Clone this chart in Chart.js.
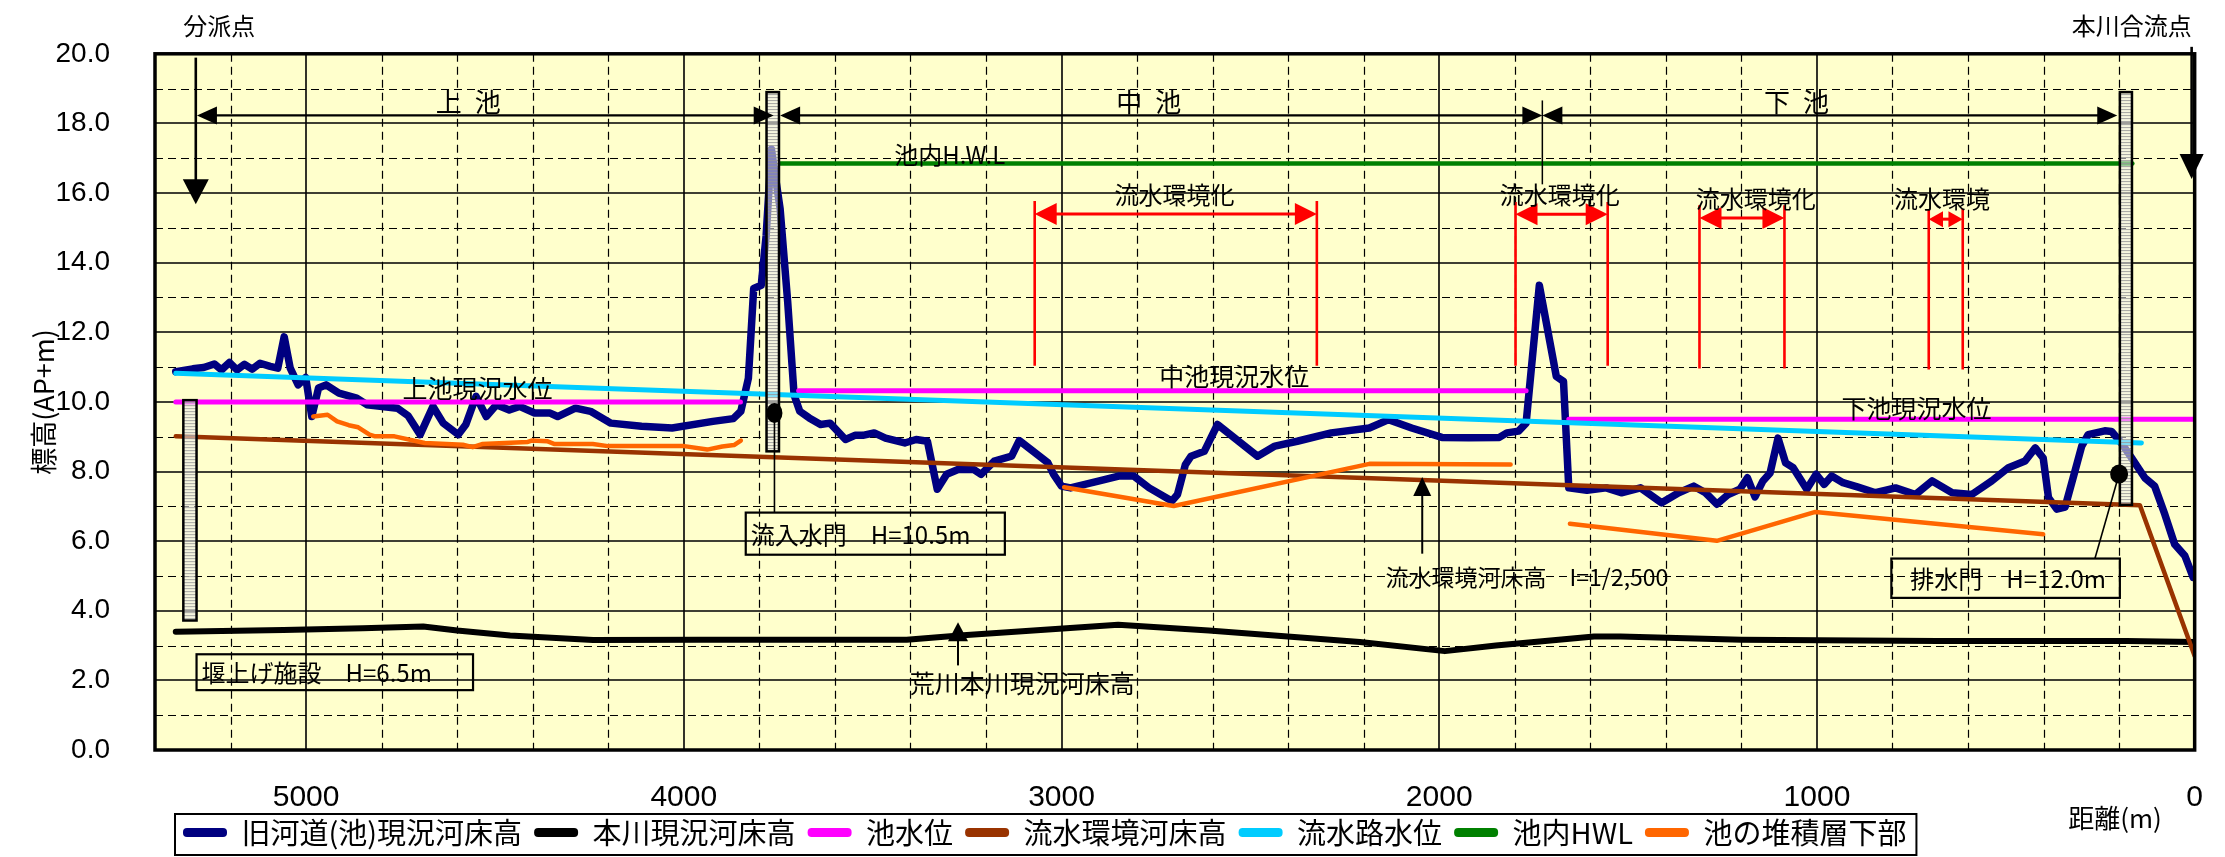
<!DOCTYPE html>
<html lang="ja">
<head>
<meta charset="utf-8">
<title>縦断図</title>
<script src="https://cdn.jsdelivr.net/npm/chart.js@4.4.1/dist/chart.umd.min.js"></script>
<style>
html,body{margin:0;padding:0;background:#ffffff;overflow:hidden;}
canvas{display:block;}
</style>
</head>
<body>
<canvas id="chart" width="2225" height="857"></canvas>
<script>
// ================= DATA =================
const xTicks = [5000, 4000, 3000, 2000, 1000, 0];
const yTicks = [0, 2, 4, 6, 8, 10, 12, 14, 16, 18, 20];
const seriesNames = ['旧河道(池)現況河床高', '本川現況河床高', '池水位', '流水環境河床高', '流水路水位', '池内HWL', '池の堆積層下部'];

// 旧河道(池)現況河床高
const oldBedX = [5345,5300,5271,5243,5224,5203,5183,5163,5143,5122,
  5095,5075,5058,5042,5021,5001,4985,4967,4947,4913,
  4866,4839,4758,4730,4698,4664,4637,4597,4577,4550,
  4523,4496,4462,4435,4395,4354,4334,4287,4247,4193,
  4112,4031,3923,3869,3849,3829,3815,3795,3782,3768,
  3745,3725,3708,3693,3668,3638,3613,3572,3547,3526,
  3496,3466,3415,3385,3355,3329,3304,3274,3233,3213,
  3178,3132,3112,3036,3021,3000,2976,2900,2849,2809,
  2768,2708,2693,2672,2657,2622,2587,2481,2435,2376,
  2286,2185,2134,2073,1993,1922,1841,1821,1790,1770,
  1735,1690,1671,1657,1609,1558,1518,1467,1411,1366,
  1326,1295,1265,1235,1204,1184,1164,1143,1124,1103,
  1083,1063,1027,1002,981,961,931,891,845,792,
  739,695,642,590,537,493,449,422,401,387,
  365,343,317,299,282,238,220,194,167,132,
  106,79,53,26,4];
const oldBedY = [10.87,10.95,10.99,11.09,10.92,11.13,10.92,11.08,10.94,11.11,
  11.02,10.97,11.87,10.97,10.49,10.70,9.58,10.40,10.49,10.25,
  10.11,9.92,9.82,9.60,9.06,9.87,9.39,9.06,9.35,10.16,
  9.58,9.92,9.77,9.87,9.68,9.68,9.58,9.82,9.73,9.39,
  9.30,9.25,9.44,9.52,9.73,10.68,13.26,13.35,14.78,17.26,
  15.55,12.88,10.20,9.73,9.54,9.35,9.39,8.92,9.04,9.04,
  9.11,8.96,8.82,8.92,8.87,7.49,7.92,8.06,8.06,7.92,
  8.30,8.44,8.89,8.25,7.92,7.58,7.53,7.73,7.87,7.87,
  7.53,7.15,7.34,8.20,8.44,8.58,9.35,8.44,8.73,8.87,
  9.11,9.25,9.49,9.25,8.98,8.97,8.98,9.11,9.16,9.39,
  13.35,10.73,10.59,7.53,7.46,7.53,7.39,7.53,7.10,7.39,
  7.58,7.39,7.06,7.34,7.49,7.82,7.27,7.73,7.96,8.96,
  8.25,8.11,7.49,7.92,7.63,7.87,7.68,7.55,7.39,7.53,
  7.34,7.73,7.39,7.34,7.73,8.11,8.30,8.68,8.39,7.25,
  6.92,6.98,8.01,8.73,9.06,9.17,9.15,8.82,8.39,7.82,
  7.58,6.77,5.91,5.58,4.96];

// 本川現況河床高
const mainX = [5345,5060,4850,4690,4600,4460,4240,3960,3410,3270,2850,2610,2210,1985,1850,1590,1520,1200,680,180,0];
const mainY = [3.40,3.45,3.50,3.55,3.43,3.29,3.16,3.17,3.17,3.29,3.60,3.43,3.10,2.84,3.00,3.26,3.26,3.17,3.13,3.13,3.10];

// 池水位 (上池 / 中池 / 下池)
const poolX = [5345,3850,3800,3696,1770,1720,1657,0];
const poolY = [10.0,10.0,null,10.32,10.32,null,9.5,9.5];

// 流水環境河床高
const envBedX = [5345,145,0];
const envBedY = [9.01,7.03,2.7];

// 流水路水位
const channelX = [5345,141];
const channelY = [10.82,8.82];

// 池内HWL
const hwlX = [3745,165];
const hwlY = [16.85,16.85];

// 池の堆積層下部
const sedX = [4981,4943,4918,4887,4862,4832,4817,4766,4686,4585,4559,4534,4413,4403,4362,4342,4241,4201,3999,3938,3898,3867,3849,
  3400, 2993,2703,2185,1811, 1730, 1654,1265,1004,401];
const sedY = [9.58,9.63,9.44,9.33,9.27,9.06,9.01,9.01,8.82,8.77,8.70,8.79,8.85,8.89,8.87,8.79,8.79,8.73,8.73,8.63,8.72,8.76,8.89,
  null, 7.55,7.01,8.22,8.20, null, 6.50,6.01,6.84,6.20];

// ================= STYLE / ANNOTATIONS =================
const seriesColors = ['#000080', '#000000', '#FF00FF', '#993300', '#00CCFF', '#008000', '#FF6600'];
const seriesWidths = [7.5, 6, 5, 4.5, 5, 4.5, 4.5];

const CJK = '"Noto Sans CJK JP", "Noto Sans CJK SC", sans-serif';
const LAT = '"Liberation Sans", Arial, sans-serif';
const NARROW = '"Liberation Sans Narrow", "Liberation Sans", Arial, sans-serif';

const gateBars = [
  {x1: 5325, x2: 5290, top: 10.05, bottom: 3.72},
  {x1: 3781, x2: 3748, top: 18.9, bottom: 8.58},
  {x1: 198, x2: 166, top: 18.9, bottom: 7.04}
];
const poolSpans = [
  {from: 5289, to: 3762, y: 18.23, label: '上\u2002池', lx: 4571},
  {from: 3745, to: 1727, y: 18.23, label: '中\u2002池', lx: 2769},
  {from: 1727, to: 205, y: 18.23, label: '下\u2002池', lx: 1054}
];
const envRanges = [
  {a: 3071, b: 2324, top: 15.77, bot: 11.04, ay: 15.40, t: '流水環境化', tx: 2701, ty: 15.94},
  {a: 1798, b: 1554, top: 15.74, bot: 11.04, ay: 15.39, t: '流水環境化', tx: 1681, ty: 15.94},
  {a: 1311, b: 1086, top: 15.65, bot: 10.96, ay: 15.28, t: '流水環境化', tx: 1162, ty: 15.82},
  {a: 704, b: 614, top: 15.54, bot: 10.93, ay: 15.25, t: '流水環境', tx: 669, ty: 15.82}
];
const textLabels = [
  {t: '分派点', x: 5230, y: 20.8, s: 24, a: 'center'},
  {t: '本川合流点', x: 8, y: 20.8, s: 24, a: 'right'},
  {t: '池内H.W.L', x: 3443, y: 17.1, s: 24, a: 'left'},
  {t: '上池現況水位', x: 4745, y: 10.39, s: 25, a: 'left'},
  {t: '中池現況水位', x: 2741, y: 10.73, s: 25, a: 'left'},
  {t: '下池現況水位', x: 935, y: 9.82, s: 25, a: 'left'},
  {t: '流水環境河床高　I=1/2,500', x: 2142, y: 4.96, s: 23, a: 'left'},
  {t: '荒川本川現況河床高', x: 3402, y: 1.92, s: 25, a: 'left'},
  {t: '距離(m)', x: 211, y: -1.97, s: 26, a: 'center'}
];
const boxLabels = [
  {t: '堰上げ施設　H=6.5m', x1: 5290, x2: 4558, top: 2.75, bottom: 1.72, pad: 5},
  {t: '流入水門　H=10.5m', x1: 3836, x2: 3150, top: 6.82, bottom: 5.61, pad: 5},
  {t: '排水門　H=12.0m', x1: 803, x2: 198, top: 5.50, bottom: 4.37, pad: 19}
];

function pts(xs, ys) { return xs.map((x, i) => ({x: x, y: ys[i]})); }

function arrowHead(ctx, tx, ty, dx, dy, len, half) {
  const bx = tx - dx * len, by = ty - dy * len;
  const nx = -dy, ny = dx;
  ctx.beginPath();
  ctx.moveTo(tx, ty);
  ctx.lineTo(bx + nx * half, by + ny * half);
  ctx.lineTo(bx - nx * half, by - ny * half);
  ctx.closePath();
  ctx.fill();
}

function drawGrid(chart) {
  const {ctx, chartArea: a, scales: {x, y}} = chart;
  ctx.save();
  ctx.strokeStyle = '#000';
  ctx.lineWidth = 1.2;
  ctx.setLineDash([8, 5]);
  ctx.beginPath();
  for (let v = 200; v < 5400; v += 200) {
    if (v % 1000 === 0) continue;
    const px = Math.round(x.getPixelForValue(v)) + 0.5;
    ctx.moveTo(px, a.top); ctx.lineTo(px, a.bottom);
  }
  for (let v = 1; v < 20; v += 2) {
    const py = Math.round(y.getPixelForValue(v)) + 0.5;
    ctx.moveTo(a.left, py); ctx.lineTo(a.right, py);
  }
  ctx.stroke();
  ctx.setLineDash([]);
  ctx.lineWidth = 1.6;
  ctx.beginPath();
  for (let v = 1000; v <= 5000; v += 1000) {
    const px = Math.round(x.getPixelForValue(v));
    ctx.moveTo(px, a.top); ctx.lineTo(px, a.bottom);
  }
  for (let v = 2; v <= 18; v += 2) {
    const py = Math.round(y.getPixelForValue(v));
    ctx.moveTo(a.left, py); ctx.lineTo(a.right, py);
  }
  ctx.stroke();
  ctx.restore();
}

function drawDecor(chart) {
  const ctx = chart.ctx, xs = chart.scales.x, ys = chart.scales.y, a = chart.chartArea;
  const X = v => xs.getPixelForValue(v), Y = v => ys.getPixelForValue(v);
  ctx.save();

  // plot frame
  ctx.strokeStyle = '#000';
  ctx.lineWidth = 3.5;
  ctx.strokeRect(a.left, a.top, a.right - a.left, a.bottom - a.top);

  // gate bars
  gateBars.forEach(g => {
    const l = X(g.x1), r = X(g.x2), t = Y(g.top), b = Y(g.bottom);
    ctx.fillStyle = 'rgba(238,238,238,0.55)';
    ctx.fillRect(l, t, r - l, b - t);
    ctx.strokeStyle = 'rgba(150,150,150,0.85)';
    ctx.lineWidth = 1;
    ctx.beginPath();
    for (let yy = t + 2; yy < b - 1; yy += 3) { ctx.moveTo(l, yy + 0.5); ctx.lineTo(r, yy + 0.5); }
    ctx.stroke();
    ctx.strokeStyle = '#000';
    ctx.lineWidth = 2.5;
    ctx.strokeRect(l, t, r - l, b - t);
  });

  // pool span dimension lines
  ctx.fillStyle = '#000';
  ctx.strokeStyle = '#000';
  poolSpans.forEach(s => {
    const x1 = X(s.from), x2 = X(s.to), yy = Y(s.y);
    ctx.lineWidth = 2.2;
    ctx.beginPath(); ctx.moveTo(x1 + 10, yy); ctx.lineTo(x2 - 10, yy); ctx.stroke();
    arrowHead(ctx, x1, yy, -1, 0, 20, 9);
    arrowHead(ctx, x2, yy, 1, 0, 20, 9);
    ctx.font = '26px ' + CJK;
    ctx.textAlign = 'center'; ctx.textBaseline = 'middle';
    ctx.fillText(s.label, X(s.lx), Y(18.62));
  });
  // leader below 中池/下池 boundary
  ctx.lineWidth = 1.5;
  ctx.beginPath(); ctx.moveTo(X(1727), Y(18.66)); ctx.lineTo(X(1727), Y(16.25)); ctx.stroke();

  // 分派点 arrow
  ctx.lineWidth = 2.6;
  ctx.beginPath(); ctx.moveTo(X(5292), Y(19.89)); ctx.lineTo(X(5292), Y(15.68) - 20); ctx.stroke();
  arrowHead(ctx, X(5292), Y(15.68), 0, 1, 25, 13);
  // 本川合流点 arrow
  ctx.beginPath(); ctx.moveTo(X(8), Y(20.2)); ctx.lineTo(X(8), Y(16.4) - 20); ctx.stroke();
  arrowHead(ctx, X(8), Y(16.4), 0, 1, 25, 12);

  // 流水環境化 ranges (red)
  envRanges.forEach(r => {
    const xa = X(r.a), xb = X(r.b), yy = Y(r.ay);
    ctx.strokeStyle = '#FF0000'; ctx.fillStyle = '#FF0000';
    ctx.lineWidth = 2.6;
    ctx.beginPath();
    ctx.moveTo(xa, Y(r.top)); ctx.lineTo(xa, Y(r.bot));
    ctx.moveTo(xb, Y(r.top)); ctx.lineTo(xb, Y(r.bot));
    ctx.stroke();
    const span = xb - xa;
    const hl = Math.min(22, span * 0.42), hh = span < 80 ? 8 : 11;
    ctx.lineWidth = 3;
    ctx.beginPath(); ctx.moveTo(xa + hl * 0.5, yy); ctx.lineTo(xb - hl * 0.5, yy); ctx.stroke();
    arrowHead(ctx, xa, yy, -1, 0, hl, hh);
    arrowHead(ctx, xb, yy, 1, 0, hl, hh);
    ctx.fillStyle = '#000';
    ctx.font = '24px ' + CJK;
    ctx.textAlign = 'center'; ctx.textBaseline = 'middle';
    ctx.fillText(r.t, X(r.tx), Y(r.ty));
  });

  // up arrows to lines
  ctx.strokeStyle = '#000'; ctx.fillStyle = '#000';
  ctx.lineWidth = 2;
  ctx.beginPath(); ctx.moveTo(X(2045), Y(5.64)); ctx.lineTo(X(2045), Y(7.84) + 14); ctx.stroke();
  arrowHead(ctx, X(2045), Y(7.84), 0, -1, 19, 9);
  ctx.beginPath(); ctx.moveTo(X(3274), Y(2.43)); ctx.lineTo(X(3274), Y(3.67) + 14); ctx.stroke();
  arrowHead(ctx, X(3274), Y(3.67), 0, -1, 19, 10);

  // gate leaders and dots
  ctx.lineWidth = 1.6;
  ctx.beginPath(); ctx.moveTo(X(3760), Y(9.68)); ctx.lineTo(X(3760), Y(6.82)); ctx.stroke();
  ctx.beginPath(); ctx.moveTo(X(200), Y(7.93)); ctx.lineTo(X(264), Y(5.50)); ctx.stroke();
  ctx.beginPath(); ctx.ellipse(X(3760), Y(9.68), 8, 10, 0, 0, Math.PI * 2); ctx.fill();
  ctx.beginPath(); ctx.ellipse(X(200), Y(7.93), 9, 9.5, 0, 0, Math.PI * 2); ctx.fill();

  // boxed labels
  boxLabels.forEach(b => {
    const l = X(b.x1), r = X(b.x2), t = Y(b.top), bt = Y(b.bottom);
    ctx.strokeStyle = '#000'; ctx.lineWidth = 2.2;
    ctx.strokeRect(l, t, r - l, bt - t);
    ctx.fillStyle = '#000';
    ctx.font = '24px ' + CJK;
    ctx.textAlign = 'left'; ctx.textBaseline = 'middle';
    ctx.fillText(b.t, l + b.pad, (t + bt) / 2 + 1);
  });

  // free text labels
  textLabels.forEach(l => {
    ctx.fillStyle = '#000';
    ctx.font = l.s + 'px ' + CJK;
    ctx.textAlign = l.a; ctx.textBaseline = 'middle';
    ctx.fillText(l.t, X(l.x), Y(l.y));
  });
  ctx.restore();
}

function drawLegendFrame(chart) {
  const lg = chart.legend;
  if (!lg || !lg.legendHitBoxes || !lg.legendHitBoxes.length) return;
  const hb = lg.legendHitBoxes;
  const first = hb[0], last = hb[hb.length - 1];
  const ctx = chart.ctx;
  ctx.save();
  ctx.strokeStyle = '#000';
  ctx.lineWidth = 2;
  const l = first.left - 8, r = last.left + last.width + 10;
  const t = first.top - 4, b = first.top + first.height + 8;
  ctx.strokeRect(l, t, r - l, b - t);
  ctx.restore();
}

const decorPlugin = {
  id: 'profileDecor',
  afterLayout(chart) {
    const lg = chart.legend;
    if (lg) { lg.left += 16; lg.right += 16; }
  },
  beforeDraw(chart) {
    const {ctx, chartArea: a} = chart;
    ctx.save();
    ctx.fillStyle = '#ffffff';
    ctx.fillRect(0, 0, chart.width, chart.height);
    ctx.fillStyle = '#FFFFCC';
    ctx.fillRect(a.left, a.top, a.right - a.left, a.bottom - a.top);
    ctx.restore();
  },
  beforeDatasetsDraw(chart) { drawGrid(chart); },
  afterDatasetsDraw(chart) { drawDecor(chart); },
  afterDraw(chart) { drawLegendFrame(chart); }
};

const seriesData = [
  pts(oldBedX, oldBedY), pts(mainX, mainY), pts(poolX, poolY), pts(envBedX, envBedY),
  pts(channelX, channelY), pts(hwlX, hwlY), pts(sedX, sedY)
];

const datasets = seriesNames.map((name, i) => ({
  label: name,
  data: seriesData[i],
  borderColor: seriesColors[i],
  backgroundColor: seriesColors[i],
  borderWidth: seriesWidths[i],
  pointRadius: 0,
  pointHoverRadius: 0,
  tension: 0,
  spanGaps: false,
  fill: false,
  borderJoinStyle: 'round',
  borderCapStyle: 'round',
  order: seriesNames.length - i
}));

new Chart(document.getElementById('chart'), {
  type: 'line',
  data: {datasets: datasets},
  plugins: [decorPlugin],
  options: {
    responsive: false,
    animation: false,
    devicePixelRatio: 1,
    events: [],
    layout: {padding: {left: 0, right: 25, top: 51, bottom: 0}},
    plugins: {
      title: {display: false},
      tooltip: {enabled: false},
      legend: {
        display: true,
        position: 'bottom',
        align: 'start',
        fullSize: false,
        labels: {
          boxWidth: 44,
          boxHeight: 9,
          padding: 12,
          color: '#000',
          font: {size: 29, family: CJK},
          sort: (p, q) => p.datasetIndex - q.datasetIndex,
          generateLabels: chart => Chart.defaults.plugins.legend.labels.generateLabels(chart).map(it => Object.assign(it, {lineWidth: 0, borderRadius: 4}))
        }
      }
    },
    scales: {
      x: {
        type: 'linear',
        reverse: true,
        min: 0,
        max: 5400,
        grid: {display: false},
        border: {display: false},
        afterBuildTicks: s => { s.ticks = xTicks.map(v => ({value: v})); },
        afterFit: s => { s.height = 56; },
        ticks: {
          padding: 22,
          autoSkip: false,
          maxRotation: 0,
          color: '#000',
          font: {size: 30, family: NARROW},
          callback: v => String(v)
        }
      },
      y: {
        type: 'linear',
        min: 0,
        max: 20,
        grid: {display: false},
        border: {display: false},
        afterBuildTicks: s => { s.ticks = yTicks.map(v => ({value: v})); },
        afterFit: s => { s.width = 155; },
        ticks: {
          padding: 37,
          color: '#000',
          font: {size: 28, family: LAT},
          callback: v => Number(v).toFixed(1)
        },
        title: {
          display: true,
          text: '標高(AP+m)',
          color: '#000',
          font: {size: 27, family: CJK},
          padding: {top: 28, bottom: 0}
        }
      }
    }
  }
});
</script>
</body>
</html>
